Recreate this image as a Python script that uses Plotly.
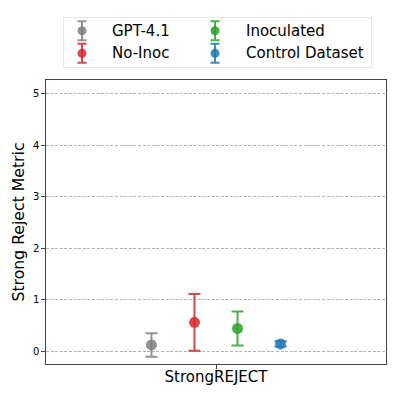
import plotly.graph_objects as go

models = ["GPT-4.1", "No-Inoc", "Inoculated", "Control Dataset"]
means = [0.12, 0.56, 0.44, 0.14]
errs = [0.23, 0.55, 0.33, 0.05]
colors = ["rgba(127,127,127,0.85)", "rgba(214,39,40,0.85)", "rgba(44,160,44,0.85)", "rgba(31,119,180,0.85)"]
offsets = [-0.3, -0.1, 0.1, 0.3]
category = "StrongREJECT"

# legend slots (column, row) in a 2x2 grid, matplotlib-style ncol=2
legend_col = [0, 0, 1, 1]
legend_row = [0, 1, 0, 1]
col_x = [0.0615, 0.492]
text_x = [0.152, 0.586]
row_y = [0.731, 0.288]

fig = go.Figure()
for i in range(len(models)):
    fig.add_trace(go.Scatter(
        x=[offsets[i]], y=[means[i]], mode="markers", name=models[i], showlegend=False,
        marker=dict(color=colors[i], size=11),
        error_y=dict(type="data", array=[errs[i]], visible=True,
                     color=colors[i], thickness=2, width=6),
    ))
    # legend handle drawn in its own small axes
    fig.add_trace(go.Scatter(
        x=[col_x[legend_col[i]]], y=[row_y[legend_row[i]]], xaxis="x2", yaxis="y2",
        mode="markers", showlegend=False, hoverinfo="skip",
        marker=dict(color=colors[i], size=9),
        error_y=dict(type="data", array=[0.186], visible=True,
                     color=colors[i], thickness=2, width=4.5),
    ))
    fig.add_annotation(x=text_x[legend_col[i]], y=row_y[legend_row[i]], xref="x2", yref="y2",
                       text=models[i], showarrow=False, xanchor="left", yanchor="middle",
                       font=dict(size=15))

fig.add_shape(type="rect", xref="x2", yref="y2", x0=0, x1=1, y0=0, y1=1,
              line=dict(color="#d0d0d0", width=1), fillcolor="white", layer="below")

fig.update_layout(
    width=399, height=399,
    margin=dict(l=46, r=13, t=0, b=35, autoexpand=False),
    plot_bgcolor="white", paper_bgcolor="white",
    font=dict(family="DejaVu Sans", color="black"),
    showlegend=False,
    xaxis2=dict(domain=[0.05, 0.9588], range=[0, 1], visible=False, anchor="y2", fixedrange=True),
    yaxis2=dict(domain=[0.8132, 0.9533], range=[0, 1], visible=False, anchor="x2", fixedrange=True),
)
fig.layout.xaxis.update(range=[-0.79, 0.79], tickvals=[0], ticktext=[category],
                        tickfont=dict(size=15), showgrid=False, zeroline=False, automargin=False,
                        showline=True, linecolor="#444", linewidth=1.2, mirror=True,
                        ticks="outside", ticklen=3.5, tickcolor="#444", ticklabelstandoff=-5)
fig.layout.yaxis.update(domain=[0, 0.7802], range=[-0.25, 5.27], tickvals=[0, 1, 2, 3, 4, 5],
                        automargin=False, tickfont=dict(size=10),
                        title=dict(text="Strong Reject Metric", font=dict(size=15.7), standoff=4),
                        showgrid=True, gridcolor="#b4b4b4", griddash="3px,1.6px", gridwidth=0.8,
                        zeroline=False, showline=True, linecolor="#444", linewidth=1.2, mirror=True,
                        ticks="outside", ticklen=3.5, tickcolor="#444")

fig.write_html("out.html", config={"displayModeBar": False},
               post_script="document.body.style.margin='0';")
